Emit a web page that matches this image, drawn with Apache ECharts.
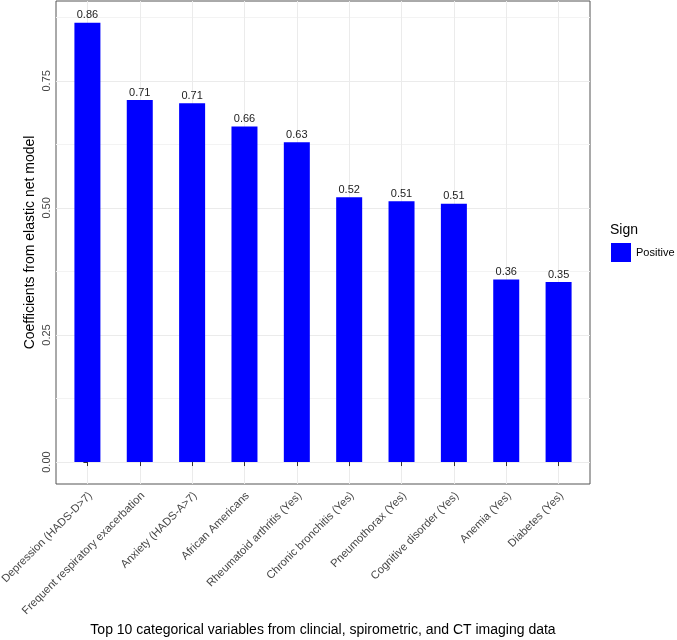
<!DOCTYPE html>
<html>
<head>
<meta charset="utf-8">
<script src="https://cdn.jsdelivr.net/npm/echarts@6/dist/echarts.min.js"></script>
<style>
  html, body { margin: 0; padding: 0; background: #fff; }
  #chart { width: 677px; height: 640px; }
</style>
</head>
<body>
<div id="chart"></div>
<script>
// categories, left to right
const categories = [
  'Depression (HADS-D>7)',
  'Frequent respiratory exacerbation',
  'Anxiety (HADS-A>7)',
  'African Americans',
  'Rheumatoid arthritis (Yes)',
  'Chronic bronchitis (Yes)',
  'Pneumothorax (Yes)',
  'Cognitive disorder (Yes)',
  'Anemia (Yes)',
  'Diabetes (Yes)'
]
// coefficients
const coefficients = [0.864, 0.712, 0.706, 0.660, 0.629, 0.521, 0.513, 0.508, 0.359, 0.354]
const yMajorTicks = [0, 0.25, 0.5, 0.75]
const yMinorTicks = [0.125, 0.375, 0.625, 0.875]
const categoryIndex = categories.map((c, i) => i)

const chart = echarts.init(document.getElementById('chart'))
const gridColor = '#ebebeb'
const axisTextColor = '#474747'
const fontFamily = 'Liberation Sans, Arial, sans-serif'

const option = {
  animation: false,
  textStyle: { fontFamily: fontFamily },
  title: {
    text: 'Sign',
    left: 610,
    top: 223,
    padding: 0,
    textStyle: { fontSize: 14, fontWeight: 'normal', color: '#000', fontFamily: fontFamily }
  },
  legend: {
    data: ['Positive'],
    left: 611,
    top: 243,
    padding: 0,
    icon: 'rect',
    itemWidth: 20,
    itemHeight: 19,
    textStyle: { fontSize: 11, color: '#000', fontFamily: fontFamily }
  },
  grid: {
    left: 56,
    right: 87,
    top: 1,
    bottom: 156,
    outerBoundsMode: 'none',
    show: true,
    borderColor: '#555',
    borderWidth: 1,
    backgroundColor: '#fff'
  },
  xAxis: [
    {
      type: 'value',
      min: -0.6,
      max: 9.6,
      name: 'Top 10 categorical variables from clincial, spirometric, and CT imaging data',
      nameLocation: 'middle',
      nameGap: 139,
      nameMoveOverlap: false,
      nameTextStyle: { fontSize: 14, color: '#000' },
      axisLine: { show: false },
      axisTick: {
        show: true,
        length: 4,
        customValues: categoryIndex,
        lineStyle: { color: '#333' }
      },
      axisLabel: { show: false, customValues: categoryIndex },
      splitLine: { show: true, lineStyle: { color: gridColor, width: 1 } }
    },
    {
      // tick labels only, nudged a little right like ggplot's hjust = 1
      type: 'value',
      min: -0.66,
      max: 9.54,
      position: 'bottom',
      axisLine: { show: false },
      axisTick: { show: false, customValues: categoryIndex },
      splitLine: { show: false },
      axisLabel: {
        customValues: categoryIndex,
        rotate: 45,
        margin: 10,
        fontSize: 11.2,
        color: axisTextColor,
        formatter: (v) => categories[Math.round(v)]
      }
    }
  ],
  yAxis: [
    {
      type: 'value',
      min: -0.0432,
      max: 0.907,
      name: 'Coefficients from elastic net model',
      nameLocation: 'middle',
      nameGap: 19,
      nameMoveOverlap: false,
      nameTextStyle: { fontSize: 14, color: '#000' },
      axisLine: { show: false },
      axisTick: {
        show: true,
        length: 4,
        customValues: yMajorTicks,
        lineStyle: { color: '#333' }
      },
      axisLabel: {
        customValues: yMajorTicks,
        rotate: 90,
        margin: 4,
        fontSize: 11,
        color: axisTextColor,
        formatter: (v) => v.toFixed(2)
      },
      splitLine: { show: true, lineStyle: { color: gridColor, width: 1 } }
    },
    {
      // minor grid lines only
      type: 'value',
      min: -0.0432,
      max: 0.907,
      position: 'left',
      axisLine: { show: false },
      axisTick: { show: false, customValues: yMinorTicks },
      axisLabel: { show: false, customValues: yMinorTicks },
      splitLine: { show: true, lineStyle: { color: '#f3f3f3', width: 1 } }
    }
  ],
  series: [
    {
      name: 'Positive',
      type: 'bar',
      xAxisIndex: 0,
      yAxisIndex: 0,
      barWidth: 26,
      itemStyle: { color: '#0000ff' },
      data: coefficients.map((v, i) => [i, v]),
      label: {
        show: true,
        position: 'top',
        distance: 2,
        fontSize: 11,
        color: '#222',
        formatter: (p) => p.value[1].toFixed(2)
      }
    }
  ]
}
chart.setOption(option)
</script>
</body>
</html>
